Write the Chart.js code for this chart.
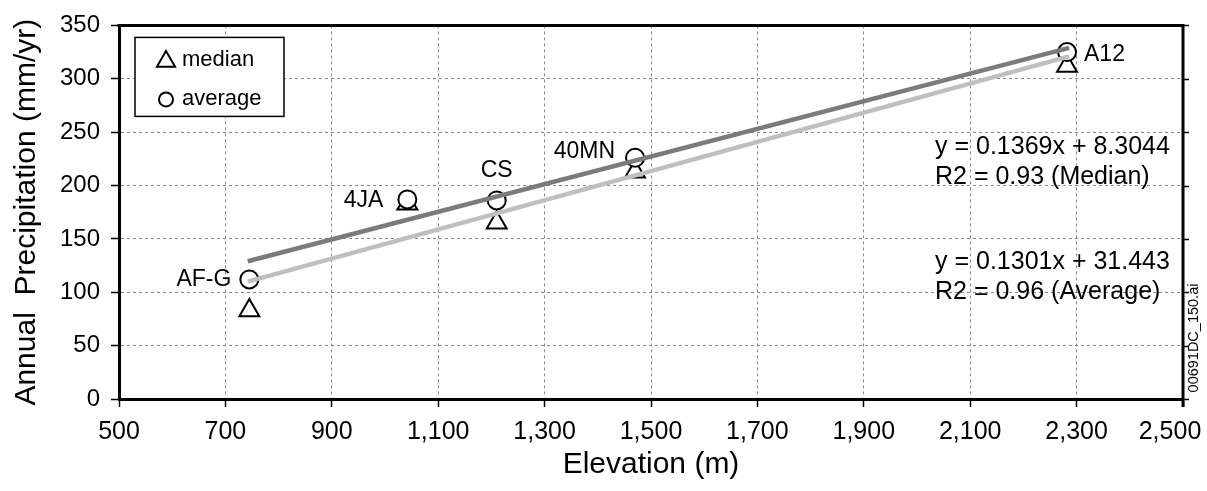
<!DOCTYPE html>
<html>
<head>
<meta charset="utf-8">
<script src="https://cdn.jsdelivr.net/npm/chart.js"></script>
<style>
  body { margin: 0; background: #fff; }
  canvas { display: block; }
</style>
</head>
<body>
<canvas id="myChart" width="1207" height="491"></canvas>
<script>
// station data
var sites = ['AF-G', '4JA', 'CS', '40MN', 'A12'];
var elevation = [745, 1042, 1210, 1470, 2282];
var medianPrecip = [83, 183, 165, 213, 312];
var averagePrecip = [112, 187, 186, 226, 325];

// regression lines (end points as drawn)
var trendX = [742, 2286];
var trendDark = [129, 329];
var trendLight = [110, 321];

var equationText = [
  ['y = 0.1369x + 8.3044', 'R2 = 0.93 (Median)'],
  ['y = 0.1301x + 31.443', 'R2 = 0.96 (Average)']
];

var xTicks = [500, 700, 900, 1100, 1300, 1500, 1700, 1900, 2100, 2300, 2500];
var yTicks = [0, 50, 100, 150, 200, 250, 300, 350];

var FONT = "'Liberation Sans', Arial, Helvetica, sans-serif";
Chart.defaults.font.family = FONT;
Chart.defaults.color = '#000';

function pts(xs, ys) {
  return xs.map(function (x, i) { return { x: x, y: ys[i] }; });
}
function fmt(v) { return v.toLocaleString('en-US'); }

// label offsets from the "average" marker: [dx, dy, align]
var labelPlace = [[-18, 0, 'right'], [-24, 1, 'right'], [0, -30, 'center'], [-20, -6, 'right'], [17, 3, 'left']];

var extras = {
  id: 'extras',
  afterDatasetsDraw: function (chart) {
    var ctx = chart.ctx, a = chart.chartArea;
    var xs = chart.scales.x, ys = chart.scales.y;
    ctx.save();

    // top and right frame
    ctx.strokeStyle = '#000';
    ctx.lineWidth = 3;
    ctx.beginPath();
    ctx.moveTo(a.left - 1.5, a.top);
    ctx.lineTo(a.right, a.top);
    ctx.lineTo(a.right, a.bottom + 8);
    ctx.stroke();
    ctx.lineWidth = 1.5;
    yTicks.forEach(function (v) {
      var y = Math.round(ys.getPixelForValue(v)) + 0.5;
      ctx.beginPath();
      ctx.moveTo(a.right, y);
      ctx.lineTo(a.right + 6, y);
      ctx.stroke();
    });

    // last x tick label sits pulled in from the edge
    ctx.fillStyle = '#000';
    ctx.font = '25px ' + FONT;
    ctx.textAlign = 'center';
    ctx.textBaseline = 'middle';
    var last = xTicks[xTicks.length - 1];
    ctx.fillText(fmt(last), xs.getPixelForValue(last) - 13, 432);

    // site labels
    ctx.font = '23px ' + FONT;
    sites.forEach(function (s, i) {
      var px = xs.getPixelForValue(elevation[i]);
      var py = ys.getPixelForValue(averagePrecip[i]);
      var p = labelPlace[i];
      ctx.textAlign = p[2];
      ctx.fillText(s, px + p[0], py + p[1]);
    });

    // regression equations
    ctx.font = '25px ' + FONT;
    ctx.textAlign = 'left';
    var eqY = [147, 177, 262, 292];
    ctx.fillText(equationText[0][0], 935, eqY[0]);
    ctx.fillText(equationText[0][1], 935, eqY[1]);
    ctx.fillText(equationText[1][0], 935, eqY[2]);
    ctx.fillText(equationText[1][1], 935, eqY[3]);

    // legend box
    var lx = a.left + 16, ly = a.top + 12;
    ctx.fillStyle = '#fff';
    ctx.fillRect(lx, ly, 149, 79);
    ctx.lineWidth = 1.5;
    ctx.strokeRect(lx, ly, 149, 79);
    ctx.fillStyle = '#000';
    ctx.lineWidth = 2;
    var tx = lx + 31, ty = ly + 24, r = 10.5;
    ctx.beginPath();
    ctx.moveTo(tx, ty - r);
    ctx.lineTo(tx + r * 0.866, ty + r / 2);
    ctx.lineTo(tx - r * 0.866, ty + r / 2);
    ctx.closePath();
    ctx.stroke();
    ctx.beginPath();
    ctx.arc(tx, ly + 62, 7, 0, Math.PI * 2);
    ctx.stroke();
    ctx.font = '22px ' + FONT;
    ctx.textAlign = 'left';
    ctx.fillText('median', lx + 47, ly + 23);
    ctx.fillText('average', lx + 47, ly + 62);

    // file tag on the right edge
    ctx.save();
    ctx.translate(1194, 338);
    ctx.rotate(-Math.PI / 2);
    ctx.textAlign = 'center';
    ctx.font = '14.5px ' + FONT;
    ctx.fillText('00691DC_150.ai', 0, 0);
    ctx.restore();

    ctx.restore();
  }
};

var ctx = document.getElementById('myChart');
var chart = new Chart(ctx, {
  type: 'scatter',
  data: {
    datasets: [
      {
        label: 'fit average',
        data: pts(trendX, trendDark),
        showLine: true,
        borderColor: '#7b7b7b',
        borderWidth: 4.5,
        pointRadius: 0,
        order: 1
      },
      {
        label: 'fit median',
        data: pts(trendX, trendLight),
        showLine: true,
        borderColor: '#bfbfbf',
        borderWidth: 4.5,
        pointRadius: 0,
        order: 0
      },
      {
        label: 'average',
        data: pts(elevation, averagePrecip),
        pointStyle: 'circle',
        pointRadius: 9,
        pointBorderWidth: 2,
        pointBorderColor: '#000',
        pointBackgroundColor: '#fff',
        order: 2
      },
      {
        label: 'median',
        data: pts(elevation, medianPrecip),
        pointStyle: 'triangle',
        pointRadius: 11.5,
        pointBorderWidth: 2,
        pointBorderColor: '#000',
        pointBackgroundColor: '#fff',
        order: 3
      }
    ]
  },
  options: {
    responsive: false,
    animation: false,
    events: [],
    layout: { padding: { top: 21, right: 24, left: 0, bottom: 0 } },
    plugins: { legend: { display: false }, tooltip: { enabled: false } },
    scales: {
      x: {
        type: 'linear',
        min: 500,
        max: 2500,
        afterBuildTicks: function (s) { s.ticks = xTicks.map(function (v) { return { value: v }; }); },
        afterFit: function (s) { s.height = 92; s.paddingLeft = 0; s.paddingRight = 0; },
        ticks: {
          font: { size: 25 },
          padding: 10,
          maxRotation: 0,
          autoSkip: false,
          callback: function (v) { return v === xTicks[xTicks.length - 1] ? '' : fmt(v); }
        },
        grid: { color: '#888', tickColor: '#000', tickLength: 8, tickWidth: 1.5, tickBorderDash: [] },
        border: { display: true, color: '#000', width: 3, dash: [3, 3] },
        title: { display: true, text: 'Elevation (m)', font: { size: 30 }, padding: { top: 0, bottom: 8 } }
      },
      y: {
        min: 0,
        max: 350,
        afterBuildTicks: function (s) { s.ticks = yTicks.map(function (v) { return { value: v }; }); },
        afterFit: function (s) { s.width = 119; },
        ticks: { font: { size: 24 }, padding: 11 },
        grid: { color: '#888', tickColor: '#000', tickLength: 8, tickWidth: 1.5, tickBorderDash: [] },
        border: { display: true, color: '#000', width: 3, dash: [3, 3] },
        title: { display: true, text: 'Annual  Precipitation (mm/yr)', font: { size: 30 }, padding: { top: 9, bottom: 0 } }
      }
    }
  },
  plugins: [extras]
});
</script>
</body>
</html>
